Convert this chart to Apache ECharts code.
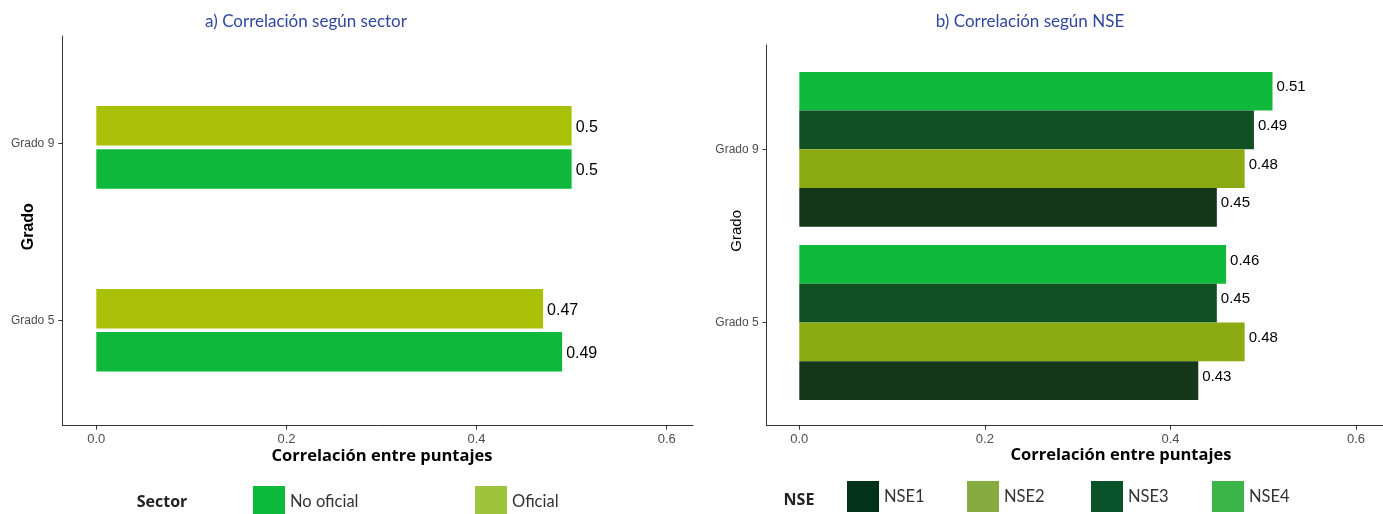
<!DOCTYPE html>
<html>
<head>
<meta charset="utf-8">
<title>Correlación entre puntajes</title>
<script src="https://cdn.jsdelivr.net/npm/echarts@6/dist/echarts.min.js"></script>
<style>
  html, body { margin: 0; padding: 0; background: #fff; }
  #chart { width: 1383px; height: 514px; }
</style>
</head>
<body>
<div id="chart"></div>
<script>
// datos
const grados = ['Grado 5', 'Grado 9']
const oficial = [0.47, 0.5]
const noOficial = [0.49, 0.5]
const nse1 = [0.43, 0.45]
const nse2 = [0.48, 0.48]
const nse3 = [0.45, 0.49]
const nse4 = [0.46, 0.51]
const xMin = 0
const xMax = 0.6
const xStep = 0.2

const myChart = echarts.init(document.getElementById('chart'))

const axisColor = '#333'
const tickLabel = { color: '#4d4d4d', fontFamily: 'Liberation Sans', fontSize: 13 }

// marco (solo lineas de eje)
function frameAxis (gi) {
  return {
    gridIndex: gi, type: 'value', min: 0, max: 1,
    axisLine: { show: true, lineStyle: { color: axisColor, width: 1 } },
    axisTick: { show: false }, axisLabel: { show: false }, splitLine: { show: false }
  }
}
function dataX (gi, offset) {
  return {
    gridIndex: gi, type: 'value', min: xMin, max: xMax, interval: xStep, offset: offset,
    axisLine: { show: false },
    axisTick: { show: true, length: 4, lineStyle: { color: axisColor } },
    axisLabel: Object.assign({ margin: 7, formatter: v => v.toFixed(1) }, tickLabel),
    splitLine: { show: false }
  }
}
function gradoY (gi) {
  return {
    gridIndex: gi, type: 'category', data: grados,
    axisLine: { show: false },
    axisTick: { show: true, alignWithLabel: true, length: 4, lineStyle: { color: axisColor } },
    axisLabel: Object.assign({ margin: 8 }, tickLabel, { fontSize: 12 }),
    splitLine: { show: false }
  }
}

function barSerie (name, data, color, xi, size, width, gap, dy) {
  return {
    name: name, type: 'bar', xAxisIndex: xi, yAxisIndex: xi,
    data: data, barWidth: width, barGap: gap,
    itemStyle: { color: color },
    label: {
      show: true, position: 'right', distance: 4, offset: [0, dy], formatter: '{c}',
      color: '#000', fontFamily: 'Liberation Sans', fontSize: size
    }
  }
}

function legendItem (name, color, left, top) {
  return {
    left: left, top: top, padding: 0, itemWidth: 32, itemHeight: 31,
    selectedMode: false,
    data: [{ name: name, icon: 'rect', itemStyle: { color: color } }],
    textStyle: { fontFamily: 'Lato', fontSize: 16.5, color: '#333' }
  }
}

function txt (text, x, y, font, color, rot) {
  return {
    type: 'text', x: x, y: y, rotation: rot || 0,
    style: {
      text: text, font: font, fill: color || '#000',
      align: 'center', verticalAlign: 'middle',
      textAlign: 'center', textVerticalAlign: 'middle'
    }
  }
}

const titleColor = '#31479e'
const titleFont = '17px Lato'
const axisNameFont = 'bold 16.5px "Open Sans"'

let option = {
  animation: false,
  backgroundColor: '#fff',
  grid: [
    // panel a: marco, barras, etiquetas
    { left: 62.3, right: 690, top: 36, bottom: 88.3, outerBoundsMode: 'none' },
    { left: 96.3, right: 716.3, top: 55.9, bottom: 92.2, outerBoundsMode: 'none' },
    { left: 62.3, right: 690, top: 54.6, bottom: 104.6, outerBoundsMode: 'none' },
    // panel b: marco, barras, etiquetas
    { left: 766.7, right: 0, top: 45, bottom: 88.3, outerBoundsMode: 'none' },
    { left: 799.3, right: 27, top: 62.7, bottom: 104.9, outerBoundsMode: 'none' },
    { left: 766.7, right: 27, top: 62.7, bottom: 104.9, outerBoundsMode: 'none' }
  ],
  xAxis: [
    frameAxis(0),
    dataX(1, 3.8),
    { gridIndex: 2, type: 'value', show: false },
    frameAxis(3),
    dataX(4, 16.6),
    { gridIndex: 5, type: 'value', show: false }
  ],
  yAxis: [
    frameAxis(0),
    { gridIndex: 1, type: 'category', data: grados, show: false },
    gradoY(2),
    frameAxis(3),
    { gridIndex: 4, type: 'category', data: grados, show: false },
    gradoY(5)
  ],
  legend: [
    legendItem('No oficial', '#0db93b', 253, 486),
    legendItem('Oficial', '#9dc43c', 475, 486),
    legendItem('NSE1', '#03321c', 847, 481),
    legendItem('NSE2', '#86ab41', 967, 481),
    legendItem('NSE3', '#0a5229', 1091, 481),
    legendItem('NSE4', '#3bb54a', 1212, 481)
  ],
  series: [
    barSerie('Oficial', oficial, '#a8c106', 1, 16, 39.5, '9%', 1.5),
    barSerie('No oficial', noOficial, '#0db83b', 1, 16, 39.5, '9%', 1.5),
    barSerie('NSE4', nse4, '#0eb93b', 4, 15, 38.7, '0%', -4),
    barSerie('NSE3', nse3, '#0f5122', 4, 15, 38.7, '0%', -4),
    barSerie('NSE2', nse2, '#8baa11', 4, 15, 38.7, '0%', -4),
    barSerie('NSE1', nse1, '#153719', 4, 15, 38.7, '0%', -4)
  ],
  graphic: [
    txt('a) Correlación según sector', 306, 21.5, titleFont, titleColor),
    txt('b) Correlación según NSE', 1030, 21.5, titleFont, titleColor),
    txt('Correlación entre puntajes', 382, 456, axisNameFont, '#000'),
    txt('Correlación entre puntajes', 1121, 455, axisNameFont, '#000'),
    txt('Grado', 29, 226.7, 'bold 16px "Liberation Sans"', '#000', Math.PI / 2),
    txt('Grado', 736.5, 230.8, '15px "Liberation Sans"', '#000', Math.PI / 2),
    txt('Sector', 162, 502.5, 'bold 16px "Open Sans"', '#222'),
    txt('NSE', 799, 500, 'bold 16px "Open Sans"', '#222')
  ]
}

myChart.setOption(option)
window.onresize = function () {
  myChart.resize()
}
</script>
</body>
</html>
